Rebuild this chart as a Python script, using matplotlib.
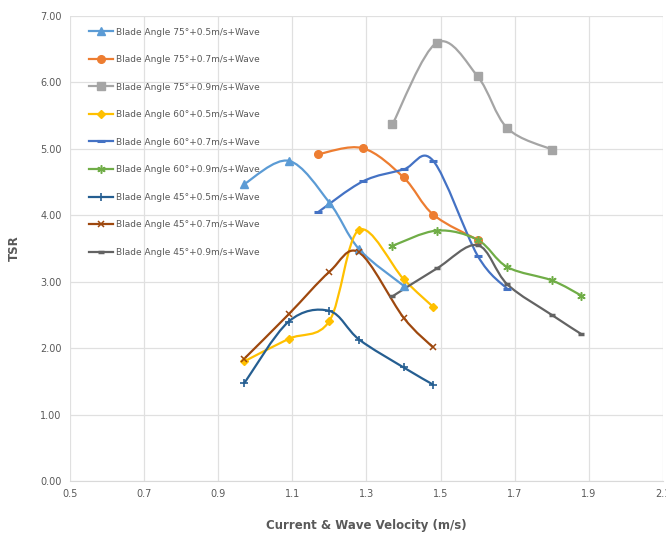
import numpy as np
import matplotlib.pyplot as plt
from matplotlib.path import Path
from matplotlib.patches import PathPatch
from matplotlib.lines import Line2D

# data
x_a = [0.97, 1.09, 1.2, 1.28, 1.4]
x_b = [1.17, 1.29, 1.4, 1.48, 1.6]
x_c = [1.37, 1.49, 1.6, 1.68, 1.8]
x_d = [0.97, 1.09, 1.2, 1.28, 1.4, 1.48]
x_e = [1.17, 1.29, 1.4, 1.48, 1.6, 1.68]
x_f = [1.37, 1.49, 1.6, 1.68, 1.8, 1.88]

tsr_75_05 = [4.47, 4.82, 4.19, 3.49, 2.94]
tsr_75_07 = [4.92, 5.01, 4.57, 4.01, 3.63]
tsr_75_09 = [5.37, 6.60, 6.09, 5.31, 4.99]
tsr_60_05 = [1.80, 2.14, 2.41, 3.78, 3.04, 2.62]
tsr_60_07 = [4.05, 4.51, 4.69, 4.82, 3.39, 2.89]
tsr_60_09 = [3.54, 3.77, 3.63, 3.22, 3.02, 2.79]
tsr_45_05 = [1.47, 2.40, 2.56, 2.13, 1.71, 1.45]
tsr_45_07 = [1.84, 2.51, 3.15, 3.44, 2.46, 2.01]
tsr_45_09 = [2.78, 3.20, 3.55, 2.96, 2.50, 2.21]

labels = ['Blade Angle 75°+0.5m/s+Wave', 'Blade Angle 75°+0.7m/s+Wave',
          'Blade Angle 75°+0.9m/s+Wave', 'Blade Angle 60°+0.5m/s+Wave',
          'Blade Angle 60°+0.7m/s+Wave', 'Blade Angle 60°+0.9m/s+Wave',
          'Blade Angle 45°+0.5m/s+Wave', 'Blade Angle 45°+0.7m/s+Wave',
          'Blade Angle 45°+0.9m/s+Wave']

series = [
    (x_a, tsr_75_05, '#5B9BD5', '^', 5.5, 1),
    (x_b, tsr_75_07, '#ED7D31', 'o', 5.5, 1),
    (x_c, tsr_75_09, '#A5A5A5', 's', 5.5, 1),
    (x_d, tsr_60_05, '#FFC000', 'D', 4, 1),
    (x_e, tsr_60_07, '#4472C4', '_', 6, 2.2),
    (x_f, tsr_60_09, '#70AD47', (6, 2, 0), 6, 1.1),
    (x_d, tsr_45_05, '#255E91', '+', 6, 1.2),
    (x_d, tsr_45_07, '#9E480E', 'x', 5, 1.1),
    (x_f, tsr_45_09, '#636363', '_', 4, 2.5),
]

GRAY = '#595959'


def smooth_path(xs, ys):
    """Excel style smoothed line as cubic bezier path"""
    p = np.column_stack([xs, ys]).astype(float)
    n = len(p)
    verts = [p[0]]
    codes = [Path.MOVETO]
    for i in range(n - 1):
        p0 = p[i - 1] if i > 0 else p[i]
        p1 = p[i]
        p2 = p[i + 1]
        p3 = p[i + 2] if i + 2 < n else p[i + 1]
        c1 = p1 + (p2 - p0) / 6.0
        c2 = p2 - (p3 - p1) / 6.0
        verts += [c1, c2, p2]
        codes += [Path.CURVE4] * 3
    return Path(verts, codes)


fig = plt.figure(figsize=(6.66, 5.33), dpi=100)
ax = fig.add_axes([70 / 666, 52 / 533, 593 / 666, 465 / 533])

handles = []
for (xs, ys, color, marker, ms, mew), label in zip(series, labels):
    ax.add_patch(PathPatch(smooth_path(xs, ys), facecolor='none',
                           edgecolor=color, lw=1.6, zorder=3))
    ax.plot(xs, ys, ls='none', marker=marker, markersize=ms, color=color,
            markeredgewidth=mew, zorder=4)
    handles.append(Line2D([], [], color=color, lw=1.6, marker=marker,
                          markersize=ms, markeredgewidth=mew))

ax.set_xlim(0.5, 2.1)
ax.set_ylim(0, 7)
ax.set_xticks(np.arange(0.5, 2.11, 0.2))
ax.set_xticklabels([f'{v:.1f}' for v in np.arange(0.5, 2.11, 0.2)])
ax.set_yticks(np.arange(0, 7.01, 1))
ax.set_yticklabels([f'{v:.2f}' for v in np.arange(0, 7.01, 1)])
ax.grid(True, color='#E0E0E0', lw=0.9)
ax.set_axisbelow(True)
for s in ['top', 'right', 'left']:
    ax.spines[s].set_visible(False)
ax.spines['bottom'].set_color('#D9D9D9')
ax.tick_params(length=0, labelsize=7, labelcolor=GRAY, pad=6)

ax.set_xlabel('Current & Wave Velocity (m/s)', fontsize=8.5, fontweight='bold',
              color=GRAY, labelpad=14)
ax.set_ylabel('TSR', fontsize=8.5, fontweight='bold', color=GRAY, labelpad=14)

leg = ax.legend(handles, labels, loc='upper left', bbox_to_anchor=(0.032, 0.975),
                frameon=False, fontsize=6.5, labelspacing=2.05, handlelength=2.7,
                handletextpad=0.3, borderpad=0, borderaxespad=0)
for t in leg.get_texts():
    t.set_color(GRAY)

fig.savefig('out.png', dpi=100)
